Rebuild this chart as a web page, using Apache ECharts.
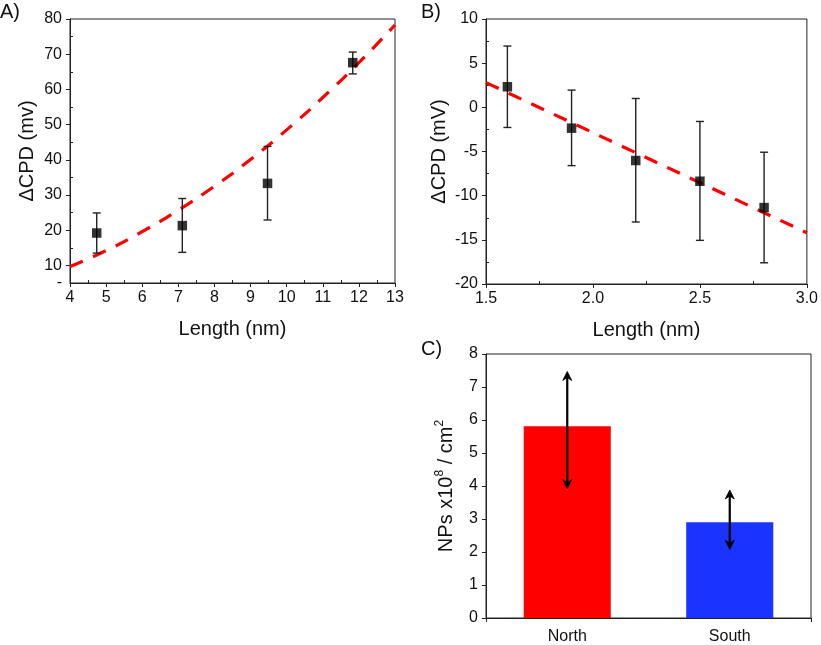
<!DOCTYPE html>
<html><head><meta charset="utf-8">
<script src="https://cdn.jsdelivr.net/npm/echarts@6/dist/echarts.min.js"></script>
<style>html,body{margin:0;padding:0;background:#fff}#c{width:821px;height:645px}</style>
</head><body><div id="c"></div>
<script>
// Panel A
const aX = [4.74, 7.11, 9.47, 11.83];
const aY = [19.2, 21.3, 33.3, 67.6];
const aLow = [13.5, 13.7, 22.9, 64.4];
const aHigh = [24.9, 29.0, 43.8, 70.6];
const aFitX = [4, 5, 6, 7, 8, 9, 10, 11, 12, 13];
const aFitY = [9.7, 14.2, 19.6, 25.7, 32.5, 40.1, 48.5, 57.7, 67.6, 78.3];
const aYLabels = [5, 10, 20, 30, 40, 50, 60, 70, 80];
const aYMajor = [10, 20, 30, 40, 50, 60, 70, 80];
const aYMinor = [15, 25, 35, 45, 55, 65, 75];
const aXMinor = [4.5, 5.5, 6.5, 7.5, 8.5, 9.5, 10.5, 11.5, 12.5];
// Panel B
const bX = [1.6, 1.9, 2.2, 2.5, 2.8];
const bY = [2.33, -2.36, -6.02, -8.37, -11.35];
const bLow = [-2.28, -6.6, -12.98, -15.06, -17.6];
const bHigh = [6.94, 1.95, 1.0, -1.6, -5.08];
const bFitX = [1.5, 3.0];
const bFitY = [2.8, -14.2];
const bXMinor = [1.75, 2.25, 2.75];
const bYMinor = [-17.5, -12.5, -7.5, -2.5, 2.5, 7.5];
// Panel C
const cCats = ['North', 'South'];
const cVals = [5.81, 2.9];
const cLow = [3.92, 2.08];
const cHigh = [7.47, 3.88];
const cColors = ['#ff0000', '#1b33ff'];
const cYMinor = [0.5, 1.5, 2.5, 3.5, 4.5, 5.5, 6.5, 7.5];

const FONT = 'Liberation Sans, Arial, sans-serif';
const chart = echarts.init(document.getElementById('c'));

function errBar(params, api) {
  const x = api.value(0), lo = api.value(1), hi = api.value(2);
  const p1 = api.coord([x, hi]), p2 = api.coord([x, lo]);
  const cw = 4;
  const st = {stroke: '#222', lineWidth: 1.4};
  return {type: 'group', children: [
    {type: 'line', shape: {x1: p1[0], y1: p1[1], x2: p2[0], y2: p2[1]}, style: st},
    {type: 'line', shape: {x1: p1[0] - cw, y1: p1[1], x2: p1[0] + cw, y2: p1[1]}, style: st},
    {type: 'line', shape: {x1: p2[0] - cw, y1: p2[1], x2: p2[0] + cw, y2: p2[1]}, style: st}
  ]};
}
function arrowBar(params, api) {
  const x = api.value(0), lo = api.value(1), hi = api.value(2);
  const p1 = api.coord([x, hi]), p2 = api.coord([x, lo]);
  const hw = 4.5, hh = 9, notch = 6;
  const fillSt = {fill: '#000', stroke: '#000', lineWidth: 0.8};
  return {type: 'group', children: [
    {type: 'line', shape: {x1: p1[0], y1: p1[1] + notch, x2: p2[0], y2: p2[1] - notch}, style: {stroke: '#000', lineWidth: 2.2}},
    {type: 'polygon', shape: {points: [[p1[0], p1[1]], [p1[0] - hw, p1[1] + hh], [p1[0], p1[1] + notch], [p1[0] + hw, p1[1] + hh]]}, style: fillSt},
    {type: 'polygon', shape: {points: [[p2[0], p2[1]], [p2[0] - hw, p2[1] - hh], [p2[0], p2[1] - notch], [p2[0] + hw, p2[1] - hh]]}, style: fillSt}
  ]};
}

const axisLine = {show: true, onZero: false, lineStyle: {color: '#222', width: 1}};
const tickStyle = {color: '#222', width: 1};
const labelStyle = {color: '#111', fontSize: 16, fontFamily: FONT};
const nameStyle = {color: '#111', fontSize: 20, fontFamily: FONT};

function zip(a, b) { return a.map((v, i) => [v, b[i]]); }
function minorAxis(grid, min, max, values, isX) {
  const ax = {gridIndex: grid, type: 'value', min: min, max: max, axisLine: {show: false, onZero: false},
    axisTick: {inside: true, length: 3, customValues: values, lineStyle: tickStyle},
    axisLabel: {show: false}, splitLine: {show: false}};
  if (isX) ax.position = 'bottom'; else ax.position = 'left';
  return ax;
}

const option = {
  animation: false,
  backgroundColor: '#fff',
  textStyle: {fontFamily: FONT},
  graphic: [
    {type: 'text', left: 0, top: 2, style: {text: 'A)', font: '20px ' + FONT, fill: '#111'}},
    {type: 'text', left: 421, top: 2, style: {text: 'B)', font: '20px ' + FONT, fill: '#111'}},
    {type: 'text', left: 421, top: 339, style: {text: 'C)', font: '20px ' + FONT, fill: '#111'}}
  ],
  grid: [
    {left: 70, top: 19, width: 325, height: 264, show: true, borderColor: '#222', borderWidth: 1},
    {left: 486, top: 19, width: 324, height: 265, show: true, borderColor: '#222', borderWidth: 1},
    {left: 486, top: 354, width: 325, height: 265, show: true, borderColor: '#222', borderWidth: 1}
  ],
  xAxis: [
    {gridIndex: 0, type: 'value', min: 4, max: 13, interval: 1, axisLine: axisLine,
     axisTick: {length: 4, lineStyle: tickStyle}, splitLine: {show: false},
     axisLabel: Object.assign({margin: 7}, labelStyle),
     name: 'Length (nm)', nameLocation: 'middle', nameGap: 36, nameTextStyle: nameStyle},
    {gridIndex: 1, type: 'value', min: 1.5, max: 3.0, interval: 0.5, axisLine: axisLine,
     axisTick: {length: 4, lineStyle: tickStyle}, splitLine: {show: false},
     axisLabel: Object.assign({margin: 7, formatter: v => v.toFixed(1)}, labelStyle),
     name: 'Length (nm)', nameLocation: 'middle', nameGap: 36, nameTextStyle: nameStyle},
    {gridIndex: 2, type: 'category', data: cCats, axisLine: axisLine,
     axisTick: {show: true, length: 4, interval: (i) => i !== 1, lineStyle: tickStyle},
     axisLabel: {color: '#111', fontSize: 16, fontFamily: FONT, margin: 11}},
    minorAxis(0, 4, 13, aXMinor, true),
    minorAxis(1, 1.5, 3.0, bXMinor, true)
  ],
  yAxis: [
    {gridIndex: 0, type: 'value', min: 5, max: 80, interval: 5, axisLine: axisLine,
     axisTick: {show: true, length: 4, customValues: aYMajor, lineStyle: tickStyle}, splitLine: {show: false},
     axisLabel: Object.assign({margin: 8, customValues: aYLabels, formatter: v => (v === 5 ? '-' : String(v))}, labelStyle),
     name: '\u0394CPD (mv)', nameLocation: 'middle', nameGap: 33, nameTextStyle: nameStyle},
    {gridIndex: 1, type: 'value', min: -20, max: 10, interval: 5, axisLine: axisLine,
     axisTick: {show: true, length: 4, lineStyle: tickStyle}, splitLine: {show: false},
     axisLabel: Object.assign({margin: 8}, labelStyle),
     name: '\u0394CPD (mV)', nameLocation: 'middle', nameGap: 37, nameTextStyle: nameStyle},
    {gridIndex: 2, type: 'value', min: 0, max: 8, interval: 1, axisLine: axisLine,
     axisTick: {show: true, length: 4, lineStyle: tickStyle}, splitLine: {show: false},
     axisLabel: Object.assign({margin: 8}, labelStyle),
     name: 'NPs x10{sup|8} / cm{sup|2}', nameLocation: 'middle', nameGap: 28,
     nameTextStyle: Object.assign({rich: {sup: {fontSize: 12, fontFamily: FONT, color: '#111', verticalAlign: 'top', padding: [0, 0, 12, 0]}}}, nameStyle)},
    minorAxis(0, 5, 80, aYMinor, false),
    minorAxis(1, -20, 10, bYMinor, false),
    minorAxis(2, 0, 8, cYMinor, false)
  ],
  series: [
    {type: 'line', xAxisIndex: 0, yAxisIndex: 0, data: zip(aFitX, aFitY), smooth: true, symbol: 'none',
     lineStyle: {color: '#ff0000', width: 3.2, type: [14, 11]}, z: 2},
    {type: 'custom', xAxisIndex: 0, yAxisIndex: 0, renderItem: errBar,
     data: aX.map((x, i) => [x, aLow[i], aHigh[i]]), z: 3},
    {type: 'scatter', xAxisIndex: 0, yAxisIndex: 0, data: zip(aX, aY), symbol: 'rect', symbolSize: 9.5,
     itemStyle: {color: '#000'}, z: 4},

    {type: 'line', xAxisIndex: 1, yAxisIndex: 1, data: zip(bFitX, bFitY), symbol: 'none',
     lineStyle: {color: '#ff0000', width: 3.2, type: [14, 11]}, z: 2},
    {type: 'custom', xAxisIndex: 1, yAxisIndex: 1, renderItem: errBar,
     data: bX.map((x, i) => [x, bLow[i], bHigh[i]]), z: 3},
    {type: 'scatter', xAxisIndex: 1, yAxisIndex: 1, data: zip(bX, bY), symbol: 'rect', symbolSize: 9.5,
     itemStyle: {color: '#000'}, z: 4},

    {type: 'bar', xAxisIndex: 2, yAxisIndex: 2, barWidth: '53.6%',
     data: cVals.map((v, i) => ({value: v, itemStyle: {color: cColors[i]}})), z: 2},
    {type: 'custom', xAxisIndex: 2, yAxisIndex: 2, renderItem: arrowBar,
     data: cCats.map((c, i) => [i, cLow[i], cHigh[i]]), z: 3}
  ]
};
chart.setOption(option);
</script></body></html>
